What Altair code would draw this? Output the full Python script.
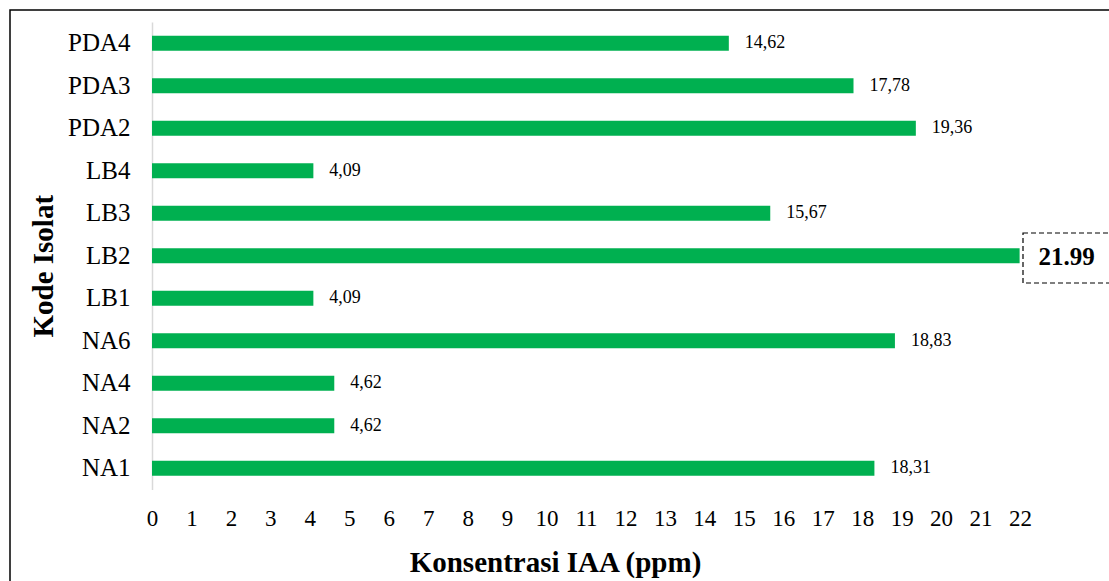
import altair as alt
import pandas as pd

isolat = ["PDA4", "PDA3", "PDA2", "LB4", "LB3", "LB2", "LB1", "NA6", "NA4", "NA2", "NA1"]
nilai = [14.62, 17.78, 19.36, 4.09, 15.67, 21.99, 4.09, 18.83, 4.62, 4.62, 18.31]
highlight = "LB2"

df = pd.DataFrame({"isolat": isolat, "nilai": nilai})
df["label"] = [("" if k == highlight else f"{v:.2f}".replace(".", ",")) for k, v in zip(isolat, nilai)]
df_hi = df[df["isolat"] == highlight].copy()
df_hi["label"] = [f"{v:.2f}" for v in df_hi["nilai"]]

FONT = "Liberation Serif"
W, H = 868, 467.5

x_enc = alt.X("nilai:Q", scale=alt.Scale(domain=[0, 22], nice=False, zero=True),
              axis=alt.Axis(values=list(range(0, 23)), title="Konsentrasi IAA (ppm)",
                            domain=False, ticks=False, grid=False, labelFont=FONT,
                            labelFontSize=23, labelColor="#000000", labelPadding=18,
                            labelFlush=False, labelOverlap=False,
                            titleFont=FONT, titleFontSize=29, titleFontWeight="bold",
                            titleColor="#000000", titleX=403, titleY=73,
                            titleAlign="center", titleBaseline="middle"))
y_enc = alt.Y("isolat:N", sort=isolat, scale=alt.Scale(paddingInner=0.64, paddingOuter=0.32),
              axis=alt.Axis(title="Kode Isolat", domain=True, domainColor="#d9d9d9",
                            domainWidth=1.5, ticks=False, grid=False, labelFont=FONT,
                            labelFontSize=25, labelColor="#000000", labelPadding=22,
                            titleFont=FONT, titleFontSize=29, titleFontWeight="bold",
                            titleColor="#000000", titleAngle=-90, titleX=-109,
                            titleY=H / 2 + 10, titleAlign="center", titleBaseline="middle"))

bars = alt.Chart(df).mark_bar(color="#00B050", size=15).encode(x=x_enc, y=y_enc)

labels = alt.Chart(df).mark_text(align="left", baseline="middle", dx=16, font=FONT,
                                  fontSize=18, color="#000000").encode(
    x=x_enc, y=y_enc, text="label:N")

box = alt.Chart(df_hi).mark_rect(fill=None, stroke="#000000", strokeWidth=1.2,
                                 strokeDash=[5, 3]).encode(
    x=alt.value(871), x2=alt.value(990), y=alt.value(211), y2=alt.value(261))

hi_text = alt.Chart(df_hi).mark_text(align="left", baseline="middle", dx=19, dy=1, font=FONT,
                                     fontSize=25, fontWeight="bold", color="#000000").encode(
    x=x_enc, y=y_enc, text="label:N")

border = alt.Chart(df_hi).mark_rect(fill=None, stroke="#000000", strokeWidth=1.5).encode(
    x=alt.value(-142), x2=alt.value(1100), y=alt.value(-12), y2=alt.value(700))

chart = alt.layer(bars, labels, box, hi_text, border).properties(
    width=W, height=H,
    background="#ffffff",
    autosize=alt.AutoSizeParams(type="none"),
    padding={"left": 152, "top": 22, "right": 89, "bottom": 91.5},
).configure_view(strokeWidth=0, stroke="transparent")

chart.save("out.html", embed_options={"renderer": "svg", "actions": False})
